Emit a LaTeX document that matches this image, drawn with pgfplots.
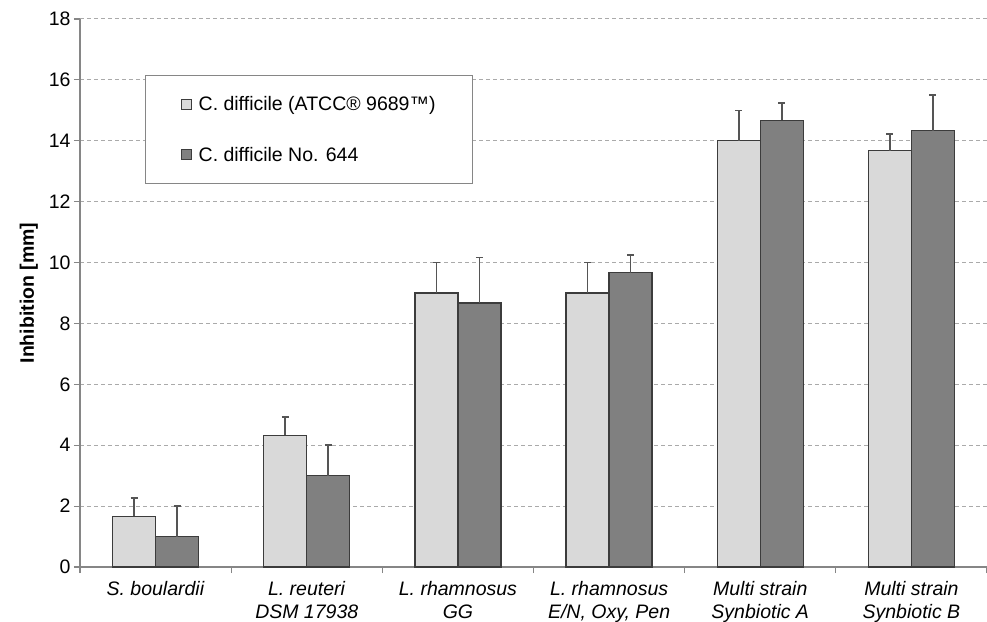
\documentclass[border=0pt]{standalone}
\usepackage{pgfplots}
\pgfplotsset{compat=1.18}
\usepackage{fontspec}
\setmainfont{Liberation Sans}
\definecolor{lightbar}{RGB}{217,217,217}
\definecolor{darkbar}{RGB}{128,128,128}
\definecolor{outl}{RGB}{60,60,60}
\definecolor{axgray}{RGB}{134,134,134}
\definecolor{gridgray}{RGB}{170,170,170}
\definecolor{errgray}{RGB}{85,85,85}
\newcommand{\chartfont}{\fontsize{19.5bp}{23bp}\selectfont}
\begin{document}
\begin{tikzpicture}
\useasboundingbox (-80bp,-55bp) rectangle (907bp,567bp);
\begin{axis}[
  at={(0,0)}, anchor=south west,
  width=907bp, height=548bp, scale only axis,
  ybar=0pt, bar width=43bp,
  xmin=-0.5, xmax=5.5, ymin=0, ymax=18,
  ytick={0,2,...,18},
  xtick={-0.5,0.5,...,5.5},
  x tick label as interval,
  xticklabels={{\textit{S. boulardii}},{\textit{L. reuteri}\\\textit{DSM 17938}},{\textit{L. rhamnosus}\\\textit{GG}},{\textit{L. rhamnosus}\\\textit{E/N, Oxy, Pen}},{\textit{Multi strain}\\\textit{Synbiotic A}},{\textit{Multi strain}\\\textit{Synbiotic B}}},
  xticklabel style={align=center, font=\chartfont, yshift=-5bp},
  yticklabel style={font=\chartfont},
  /pgf/number format/assume math mode=true,
  axis x line=bottom, axis y line=left,
  axis line style={-, axgray, line width=1.2bp},
  tick style={axgray, line width=1.2bp},
  tick align=outside, major tick length=6bp,
  ymajorgrids, grid style={gridgray, dash pattern=on 4bp off 3bp, line width=1bp},
  ylabel={\textbf{Inhibition [mm]}},
  ylabel style={font=\chartfont},
  ylabel shift=4bp,
  legend style={at={(rel axis cs:0.0717,0.898)}, anchor=north west,
    draw=axgray, line width=1.3bp, inner xsep=35bp, inner ysep=19bp,
    row sep=31bp, column sep=5bp, font=\chartfont, cells={anchor=west}},
  legend image code/.code={\draw[#1, line width=1bp] (0bp,-5bp) rectangle (10bp,5bp);},
  error bars/y dir=plus, error bars/y explicit,
  error bars/error bar style={errgray, line width=1.6bp},
  error bars/error mark options={rotate=90, errgray, mark size=3.5bp, line width=1.6bp},
]
\addplot[fill=lightbar, draw=outl, line width=1.3bp] coordinates {
  (0,1.67) +- (0,0.6)
  (1,4.33) +- (0,0.6)
  (2,9.0) +- (0,1.0)
  (3,9.0) +- (0,1.0)
  (4,14.0) +- (0,1.0)
  (5,13.67) +- (0,0.55)
};
\addplot[fill=darkbar, draw=outl, line width=1.3bp] coordinates {
  (0,1.0) +- (0,1.0)
  (1,3.0) +- (0,1.0)
  (2,8.67) +- (0,1.5)
  (3,9.67) +- (0,0.58)
  (4,14.67) +- (0,0.58)
  (5,14.33) +- (0,1.17)
};
\legend{C. difficile (ATCC® 9689™),C. difficile No. 644}
\end{axis}
\end{tikzpicture}
\end{document}
